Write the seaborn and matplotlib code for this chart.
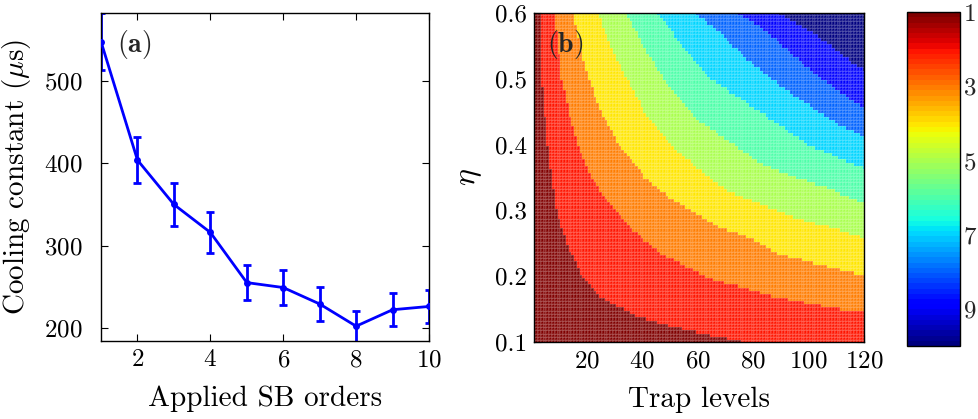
import numpy as np
import matplotlib
matplotlib.use("Agg")
import matplotlib.pyplot as plt
from matplotlib.path import Path
import seaborn as sns

# ---------------- data: panel (a) ----------------
sb_orders = [1, 2, 3, 4, 5, 6, 7, 8, 9, 10]
cooling_us = [548, 404, 350, 316, 255, 249, 229, 202, 222, 226]
cooling_err = [35, 28, 26, 25, 21.5, 21, 20.5, 19, 20, 20]

# ---------------- data: panel (b) ----------------
# boundaries between consecutive integer levels, as (trap level, eta) points
b2_n = [3.2, 3.5, 3.8, 4.8, 6.0, 7.3, 9.2, 12.8, 17.6, 24.9, 36.9, 49.0, 61.0, 76.0]
b2_e = [0.60, 0.55, 0.50, 0.45, 0.40, 0.35, 0.296, 0.25, 0.207, 0.169, 0.141, 0.126, 0.113, 0.10]
b3_n = [8.3, 9.6, 11.0, 13.6, 17.0, 21.5, 27.3, 33.3, 39.3, 46.6, 56.2, 65.9, 76.7, 85.2, 97.2, 109.3, 120]
b3_e = [0.60, 0.55, 0.50, 0.45, 0.40, 0.35, 0.316, 0.285, 0.26, 0.235, 0.214, 0.194, 0.182, 0.171, 0.161, 0.151, 0.146]
b4_n = [15.2, 17.7, 20.6, 25.3, 31.5, 41.0, 50.8, 57.4, 67.1, 77.9, 88.8, 97.2, 109.2, 120]
b4_e = [0.60, 0.55, 0.50, 0.45, 0.40, 0.35, 0.316, 0.30, 0.275, 0.26, 0.235, 0.225, 0.212, 0.202]
b5_n = [24.3, 28.5, 34.5, 41.0, 50.2, 62.8, 71.3, 83.4, 95.4, 107.4, 120]
b5_e = [0.60, 0.55, 0.50, 0.45, 0.40, 0.354, 0.328, 0.308, 0.288, 0.275, 0.258]
b6_n = [34.3, 40.5, 47.8, 59.2, 71.3, 83.4, 93.0, 107.4, 120]
b6_e = [0.60, 0.55, 0.50, 0.44, 0.405, 0.37, 0.354, 0.333, 0.311]
b7_n = [46.0, 54.5, 65.0, 78.5, 89.4, 100.0, 111.0, 120]
b7_e = [0.60, 0.55, 0.50, 0.461, 0.43, 0.40, 0.38, 0.364]
b8_n = [59.2, 68.9, 78.5, 89.4, 101.4, 111.0, 120]
b8_e = [0.60, 0.567, 0.527, 0.491, 0.456, 0.43, 0.413]
b9_n = [74.3, 83.4, 93.0, 101.4, 111.0, 120]
b9_e = [0.60, 0.577, 0.542, 0.511, 0.481, 0.456]
b10_n = [90.0, 99.0, 107.4, 113.5, 120]
b10_e = [0.60, 0.577, 0.552, 0.532, 0.513]

boundaries = [(b2_n, b2_e), (b3_n, b3_e), (b4_n, b4_e), (b5_n, b5_e), (b6_n, b6_e),
              (b7_n, b7_e), (b8_n, b8_e), (b9_n, b9_e), (b10_n, b10_e)]

trap_levels = np.arange(1, 121)
eta_values = np.round(np.arange(0.1, 0.6001, 0.005), 4)
cbar_ticks = [1, 3, 5, 7, 9]

# ---------------- build level map from the boundaries ----------------
NN, EE = np.meshgrid(trap_levels, eta_values)
pts = np.column_stack([NN.ravel(), EE.ravel()])
level = np.ones(NN.size)
for ns, es in boundaries:
    verts = [(-10, 0.7), (ns[0], 0.7)] + list(zip(ns, es))
    if ns[-1] >= 120:
        verts += [(130, es[-1]), (130, 0.0)]
    else:
        verts += [(ns[-1], 0.0)]
    verts += [(-10, 0.0)]
    inside = Path(verts).contains_points(pts)
    level += (~inside).astype(float)
level = level.reshape(NN.shape)

# ---------------- style ----------------
sns.set_style("ticks")
plt.rcParams["font.family"] = ["cmr10", "DejaVu Serif"]
plt.rcParams["mathtext.fontset"] = "cm"
plt.rcParams["axes.unicode_minus"] = False
plt.rcParams["axes.formatter.use_mathtext"] = True

fig = plt.figure(figsize=(9.79, 4.19), dpi=100)
ax1 = fig.add_axes([0.1032, 0.1862, 0.3350, 0.7830])
ax2 = fig.add_axes([0.5454, 0.1838, 0.3371, 0.7852])
cax = fig.add_axes([0.9265, 0.1742, 0.0541, 0.7970])

TICK_FS = 18
LAB_FS = 21

# ---- panel (a)
ax1.errorbar(sb_orders, cooling_us, yerr=cooling_err, fmt="none", ecolor=(0, 0, 1),
             elinewidth=2.0, capsize=3.2, capthick=2.0, zorder=2)
sns.lineplot(x=sb_orders, y=cooling_us, ax=ax1, color=(0, 0, 1), linewidth=2.0,
             marker="o", markersize=5, markeredgewidth=0, zorder=3)
ax1.set_xlim(1, 10)
ax1.set_ylim(184, 583)
ax1.set_xticks([2, 4, 6, 8, 10])
ax1.set_yticks([200, 300, 400, 500])
ax1.tick_params(axis="both", direction="in", top=True, right=True, length=5,
                width=0.8, labelsize=TICK_FS, color="black", labelcolor="black")
ax1.tick_params(axis="y", pad=13)
ax1.tick_params(axis="x", pad=6)
ax1.set_xlabel("Applied SB orders", fontsize=LAB_FS, labelpad=10, color="black")
ax1.set_ylabel(r"Cooling constant ($\mu$s)", fontsize=LAB_FS, labelpad=8, color="black")
ax1.text(0.05, 0.955, r"$(\mathbf{a})$", transform=ax1.transAxes, fontsize=20,
         va="top", ha="left")
for s in ax1.spines.values():
    s.set_color("black")
    s.set_linewidth(1.0)

# ---- panel (b)
cmap = plt.get_cmap("jet_r", 64)
mesh = ax2.pcolormesh(trap_levels, eta_values, level, cmap=cmap, vmin=1, vmax=10,
                      shading="nearest", edgecolors=(1, 1, 1, 0.12), linewidth=0.3)
ax2.set_xlim(1, 120)
ax2.set_ylim(0.1, 0.6)
ax2.set_xticks([20, 40, 60, 80, 100, 120])
ax2.set_yticks([0.1, 0.2, 0.3, 0.4, 0.5, 0.6])
ax2.set_yticklabels(["0.1", "0.2", "0.3", "0.4", "0.5", "0.6"])
ax2.tick_params(axis="both", direction="in", top=True, right=True, length=5,
                width=0.8, labelsize=TICK_FS, color="black", labelcolor="black")
ax2.tick_params(axis="y", pad=5)
ax2.tick_params(axis="x", pad=6)
ax2.set_xlabel("Trap levels", fontsize=LAB_FS, labelpad=10, color="black")
ax2.set_ylabel(r"$\eta$", fontsize=LAB_FS + 2, labelpad=8, color="black")
ax2.text(0.04, 0.955, r"$(\mathbf{b})$", transform=ax2.transAxes, fontsize=20,
         va="top", ha="left")
for s in ax2.spines.values():
    s.set_color("black")
    s.set_linewidth(1.0)

# ---- colorbar
cb = fig.colorbar(mesh, cax=cax, ticks=cbar_ticks)
cax.invert_yaxis()
cax.tick_params(direction="in", length=4, width=0.8, labelsize=TICK_FS, pad=2,
                left=True, right=True, color="black")
cb.outline.set_linewidth(1.0)
cb.outline.set_edgecolor("black")

fig.savefig("out.png", dpi=100)
